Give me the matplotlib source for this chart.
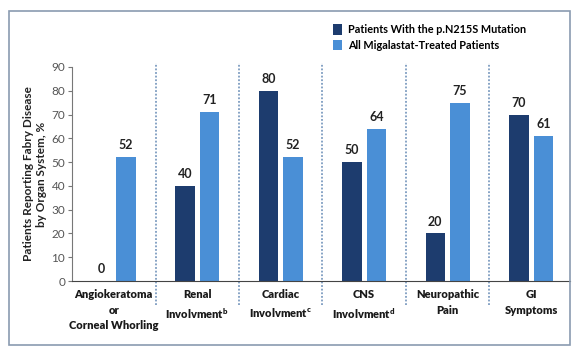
import numpy as np
import matplotlib.pyplot as plt
from matplotlib.patches import Rectangle

plt.rcParams['font.family'] = ['Lato', 'DejaVu Sans']
plt.rcParams['mathtext.default'] = 'bf'

categories = ["Angiokeratoma\nor\nCorneal Whorling",
              "Renal\nInvolvment$^{\\mathregular{b}}$",
              "Cardiac\nInvolvment$^{\\mathregular{c}}$",
              "CNS\nInvolvment$^{\\mathregular{d}}$",
              "Neuropathic\nPain",
              "GI\nSymptoms"]
n215s = [0, 40, 80, 50, 20, 70]
all_treated = [52, 71, 52, 64, 75, 61]
series_names = ["Patients With the p.N215S Mutation", "All Migalastat-Treated Patients"]

dark = "#1d3c6e"
light = "#4a8fd6"

fig = plt.figure(figsize=(5.72, 3.47), dpi=100)
ax = fig.add_axes([0.126, 0.19, 0.871, 0.617])

x = np.arange(len(categories))
w = 0.235
off = 0.147
b1 = ax.bar(x - off, n215s, w, color=dark)
b2 = ax.bar(x + off, all_treated, w, color=light)

for xi, v in zip(x, n215s):
    ax.text(xi - off, v + 2.5, str(v), ha='center', va='bottom', fontsize=9, fontweight='bold', color='#222222')
for xi, v in zip(x, all_treated):
    ax.text(xi + off, v + 2.5, str(v), ha='center', va='bottom', fontsize=9, fontweight='bold', color='#222222')

# dotted group separators
for xi in x[:-1] + 0.5:
    ax.vlines(xi, -10, 91.8, colors='#7d9cc0', linestyles=(0, (1, 1)), linewidth=1.3, clip_on=False)

ax.set_xlim(-0.5, 5.47)
ax.set_ylim(0, 90)
ax.set_yticks(range(0, 91, 10))
ax.tick_params(axis='y', direction='out', length=3, color='#777777', labelcolor='#555555', labelsize=8.5, pad=2)
ax.tick_params(axis='x', length=0, pad=6)
ax.set_xticks(x)
ax.set_xticklabels(categories, fontsize=8, fontweight='heavy', color='#1a1a1a', linespacing=1.5)
for s in ['top', 'right']:
    ax.spines[s].set_visible(False)
ax.spines['left'].set_color('#777777')
ax.spines['bottom'].set_color('#444444')

ax.set_ylabel("Patients Reporting Fabry Disease\nby Organ System, %", fontsize=8.5, fontweight='bold', color='#222222', labelpad=3)

# legend
fig.legend([b1, b2], series_names, loc='upper left', bbox_to_anchor=(0.565, 0.958), frameon=False,
           handlelength=0.85, handleheight=1.15, handletextpad=0.55, labelspacing=0.4,
           prop={'weight': 'bold', 'size': 7.8})

# outer frame
fig.patches.append(Rectangle((0.015, 0.006), 0.982, 0.963, transform=fig.transFigure,
                             fill=False, edgecolor='#8a9bb0', linewidth=1.2))

fig.savefig("out.png", dpi=100)
